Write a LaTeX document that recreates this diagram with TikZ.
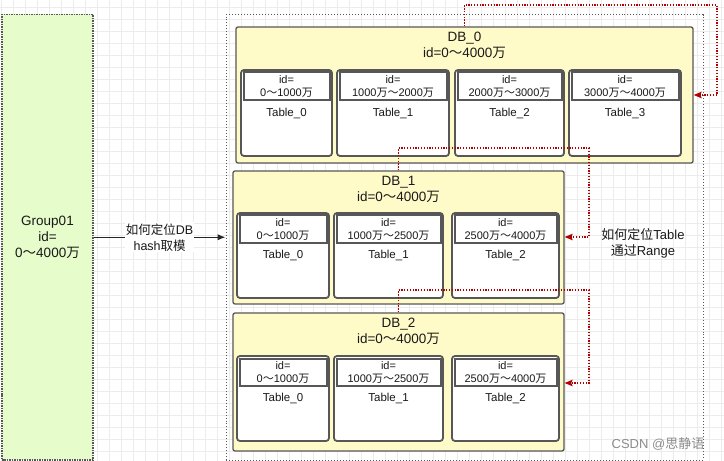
\documentclass[tikz,border=0pt]{standalone}
\usepackage{fontspec}
\setmainfont{Liberation Sans}
\newfontfamily\cjk{Noto Sans CJK SC}
\usetikzlibrary{arrows.meta,fit,positioning}
\definecolor{grpfill}{HTML}{E6FCCB}
\definecolor{dbfill}{HTML}{FFFBC9}
\definecolor{boxline}{HTML}{575757}
\definecolor{arrowred}{HTML}{B20000}
\definecolor{gridgray}{HTML}{ECECEC}
\newcommand\cwan{{\cjk 万}}
\newcommand\ctil{{\cjk ～}}

\begin{document}
\begin{tikzpicture}[x=1bp,y=-1bp,
    gridline/.style={gridgray,line width=0.6bp},
    grpbox/.style={draw=boxline,fill=grpfill,densely dotted,line width=1.5bp,inner sep=0pt},
    outerbox/.style={draw=boxline,dotted,line width=1bp,inner sep=0pt},
    dbbox/.style={draw=boxline,fill=dbfill,rounded corners=2bp,line width=1.3bp,inner sep=0pt},
    tblbox/.style={draw=boxline,fill=white,rounded corners=3bp,line width=1.8bp,inner sep=0pt},
    hdrbox/.style={draw=boxline,fill=white,line width=2bp,inner sep=0pt},
    maintext/.style={align=center,text=black!90,font={\fontsize{13.5bp}{16bp}\selectfont}},
    lbltext/.style={align=center,text=black!90,fill=white,inner sep=1bp,font={\fontsize{12.5bp}{16bp}\selectfont}},
    hdrtext/.style={align=center,text=black!90,font={\fontsize{11bp}{13bp}\selectfont}},
    tbltext/.style={text=black!90,font={\fontsize{11.5bp}{14bp}\selectfont}},
    barrow/.style={black!85,line width=1.4bp,-{Latex[length=8bp,width=6.5bp]}},
    rarrow/.style={arrowred,line width=1.3bp,dash pattern=on 1.3bp off 1.5bp,-{Stealth[length=8bp,width=6.5bp,inset=1.5bp]}}]

    \useasboundingbox (0,0) rectangle (724,461);
    \fill[white] (0,0) rectangle (724,461);

    % background grid
    \foreach \gx in {1,13,...,721}
        \draw[gridline] (\gx,0) -- (\gx,461);
    \foreach \gy in {7,19,...,451}
        \draw[gridline] (0,\gy) -- (724,\gy);

    % group and outer frame
    \node[grpbox,fit={(2,14.5) (93,460)}] (grp) {};
    \node[maintext] (grpt) at (grp) {Group01\\id=\\0\ctil4000\cwan};
    \node[outerbox,fit={(226,15) (703,460)}] (outer) {};

    % DB_0
    \node[dbbox,fit={(236,27) (693,163)}] (db0) {};
    \node[maintext] (db0t) at (464.5,45) {DB\_0\\id=0\ctil4000\cwan};
    \foreach \n/\xa/\xb/\rng in {0/241/332/{0\ctil1000\cwan},
                                 1/337/449/{1000\cwan\ctil2000\cwan},
                                 2/455/564/{2000\cwan\ctil3000\cwan},
                                 3/569/681/{3000\cwan\ctil4000\cwan}}{
        \node[tblbox,fit={(\xa,70) (\xb,156)}] (t0\n) {};
        \node[hdrbox,fit={(\xa+2.5,72.5) (\xb-2.5,100)}] (h0\n) {};
        \node[hdrtext] (ht0\n) at (h0\n) {id=\\\rng};
        \node[tbltext] (tt0\n) at ({(\xa+\xb)/2},113) {Table\_\n};
    }

    % DB_1 and DB_2
    \node[dbbox,fit={(233,171) (564,304)}] (db1) {};
    \node[maintext] (db1t) at (398.5,189) {DB\_1\\id=0\ctil4000\cwan};
    \node[dbbox,fit={(233,313) (564,451)}] (db2) {};
    \node[maintext] (db2t) at (398.5,331) {DB\_2\\id=0\ctil4000\cwan};
    \foreach \d/\ya in {1/213,2/356}{
        \foreach \n/\xa/\xb/\rng in {0/237/329/{0\ctil1000\cwan},
                                     1/334/443/{1000\cwan\ctil2500\cwan},
                                     2/452/559/{2500\cwan\ctil4000\cwan}}{
            \node[tblbox,fit={(\xa,\ya) (\xb,\ya+85)}] (t\d\n) {};
            \node[hdrbox,fit={(\xa+2.5,\ya+2.5) (\xb-2.5,\ya+30)}] (h\d\n) {};
            \node[hdrtext] (ht\d\n) at (h\d\n) {id=\\\rng};
            \node[tbltext] (tt\d\n) at ({(\xa+\xb)/2},\ya+42.5) {Table\_\n};
        }
    }

    % hash routing
    \draw[barrow] (grp.east) -- node[lbltext] (hashlbl) {{\cjk 如何定位}DB\\hash{\cjk 取模}} (grp.east -| outer.west);

    % range routing
    \coordinate (r0) at (717,5);
    \coordinate (e0) at (0,95);
    \draw[rarrow] (db0.north) |- (r0) |- (db0.east |- e0);
    \coordinate (r1) at (589,148);
    \coordinate (e1) at (0,237);
    \draw[rarrow] (db1.north) |- (r1) |- (db1.east |- e1);
    \coordinate (r2) at (589,290);
    \coordinate (e2) at (0,383);
    \draw[rarrow] (db2.north) |- (r2) |- (db2.east |- e2);
    \node[maintext,font={\fontsize{13bp}{16bp}\selectfont}] (rangelbl) at (643,243) {{\cjk 如何定位}Table\\{\cjk 通过}Range};

    \node[text=black!45,font={\fontsize{13bp}{16bp}\selectfont}] (csdn) at (658,444) {CSDN @{\cjk 思静语}};
\end{tikzpicture}
\end{document}
